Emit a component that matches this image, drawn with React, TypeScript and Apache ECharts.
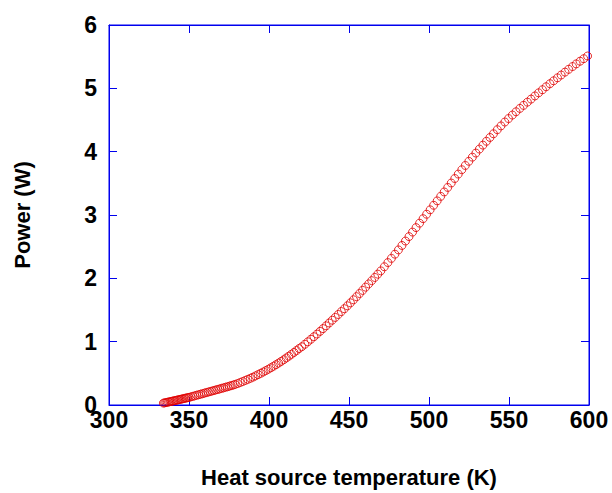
import React, { useEffect, useRef } from "react";
import * as echarts from "echarts";

const temperature: number[] = [
  334.0, 334.8, 335.6, 336.4, 337.2, 338.0, 338.8, 339.6, 340.4, 341.2, 342.0, 342.8, 343.6, 344.4, 345.2, 346.0, 346.8, 347.6, 348.4, 349.2, 350.0,
  351.2, 352.4, 353.6, 354.8, 356.0, 357.2, 358.4, 359.6, 360.8, 362.0, 363.2, 364.4, 365.6, 366.8, 368.0, 369.2, 370.4, 371.6, 372.8, 374.0, 375.2, 376.4, 377.6, 378.8,
  380.4, 382.0, 383.6, 385.2, 386.8, 388.4, 390.0, 391.6, 393.2, 394.8, 396.4, 398.0, 399.6, 401.2, 402.8, 404.4, 406.0, 407.6, 409.2, 410.8, 412.4, 414.0, 415.6, 417.2, 418.8,
  420.5, 422.4, 424.3, 426.2, 428.1, 430.0, 431.9, 433.8, 435.7, 437.6, 439.5, 441.4, 443.3, 445.2, 447.1, 449.0, 450.9, 452.8, 454.7, 456.6, 458.5, 460.4, 462.3, 464.2, 466.1, 468.0, 469.9,
  472.1, 474.3, 476.5, 478.7, 480.9, 483.1, 485.3, 487.5, 489.7, 491.9, 494.1, 496.3, 498.5, 500.7, 502.9, 505.1, 507.3, 509.5, 511.7, 513.9, 516.1, 518.3, 520.5, 522.7, 524.9, 527.1, 529.3, 531.5, 533.7, 535.9, 538.1, 540.3,
  542.7, 545.0, 547.4, 549.7, 552.1, 554.4, 556.8, 559.1, 561.5, 563.8, 566.2, 568.5, 570.9, 573.2, 575.6, 577.9, 580.3, 582.6, 585.0, 587.3, 589.7, 592.0, 594.4, 596.7, 599.1,
];

const power: number[] = [
  0.030, 0.034, 0.038, 0.043, 0.047, 0.052, 0.056, 0.061, 0.065, 0.070, 0.074, 0.079, 0.084, 0.088, 0.093, 0.097, 0.102, 0.107, 0.111, 0.116, 0.120,
  0.128, 0.137, 0.145, 0.154, 0.162, 0.170, 0.179, 0.187, 0.196, 0.204, 0.212, 0.221, 0.229, 0.238, 0.246, 0.254, 0.263, 0.271, 0.280, 0.288, 0.297, 0.306, 0.315, 0.325,
  0.339, 0.355, 0.371, 0.388, 0.405, 0.422, 0.440, 0.460, 0.480, 0.500, 0.521, 0.543, 0.565, 0.588, 0.612, 0.637, 0.662, 0.688, 0.715, 0.743, 0.771, 0.800, 0.830, 0.860, 0.891,
  0.920, 0.959, 0.998, 1.038, 1.078, 1.120, 1.163, 1.206, 1.250, 1.295, 1.339, 1.383, 1.429, 1.475, 1.520, 1.566, 1.613, 1.661, 1.710, 1.760, 1.810, 1.861, 1.912, 1.963, 2.014, 2.066, 2.118,
  2.183, 2.249, 2.315, 2.381, 2.449, 2.519, 2.589, 2.659, 2.730, 2.801, 2.871, 2.942, 3.012, 3.082, 3.153, 3.223, 3.294, 3.364, 3.435, 3.505, 3.576, 3.646, 3.715, 3.782, 3.848, 3.913, 3.978, 4.041, 4.103, 4.164, 4.224, 4.283,
  4.347, 4.407, 4.468, 4.523, 4.578, 4.630, 4.683, 4.731, 4.782, 4.830, 4.880, 4.929, 4.978, 5.025, 5.073, 5.119, 5.166, 5.210, 5.256, 5.300, 5.344, 5.386, 5.428, 5.468, 5.510,
];

const xTitle = "Heat source temperature (K)";
const yTitle = "Power (W)";

const FONT = "'Liberation Sans', Arial, Helvetica, sans-serif";
const BLUE = "#0000ee";

export default function App() {
  const ref = useRef<HTMLDivElement>(null);
  useEffect(() => {
    if (!ref.current) return;
    const chart = echarts.init(ref.current, undefined, { renderer: "svg" });
    const data = temperature.map((t, i) => [t, power[i]]);
    const axisLine = { show: true, onZero: false, lineStyle: { color: BLUE, width: 1 } };
    const axisTick = { show: true, inside: true, length: 8, lineStyle: { color: BLUE, width: 1 } };
    const tickStyle = { color: "#000", fontFamily: FONT, fontWeight: "bold" as const, fontSize: 23 };
    const titleStyle = { color: "#000", fontFamily: FONT, fontWeight: "bold" as const, fontSize: 22 };
    chart.setOption({
      animation: false,
      backgroundColor: "#fff",
      grid: {
        left: 109, right: 23, top: 25, bottom: 83, containLabel: false,
        show: true, borderColor: BLUE, borderWidth: 1, backgroundColor: "transparent",
      },
      xAxis: [
        {
          type: "value", min: 300, max: 600, interval: 50, position: "bottom",
          axisLine, axisTick, splitLine: { show: false },
          axisLabel: { ...tickStyle, lineHeight: 16, margin: 7 },
          name: xTitle, nameLocation: "middle", nameGap: 61,
          nameTextStyle: { ...titleStyle },
        },
        {
          type: "value", min: 300, max: 600, interval: 50, position: "top",
          axisLine, axisTick, splitLine: { show: false }, axisLabel: { show: false },
        },
      ],
      yAxis: [
        {
          type: "value", min: 0, max: 6, interval: 1, position: "left",
          axisLine, axisTick, splitLine: { show: false },
          axisLabel: { ...tickStyle, lineHeight: 12, margin: 12 },
          name: yTitle, nameLocation: "middle", nameGap: 76, nameRotate: 90,
          nameTextStyle: { ...titleStyle },
        },
        {
          type: "value", min: 0, max: 6, interval: 1, position: "right",
          axisLine, axisTick, splitLine: { show: false }, axisLabel: { show: false },
        },
      ],
      series: [
        {
          type: "scatter",
          data,
          symbol: "circle",
          symbolSize: 8,
          itemStyle: { color: "rgba(0,0,0,0)", borderColor: "#e00000", borderWidth: 1 },
          clip: false,
        },
      ],
    });
    return () => chart.dispose();
  }, []);
  return (
    <div
      ref={ref}
      style={{ position: "fixed", left: 0, top: 0, width: 612, height: 493, background: "#fff" }}
    />
  );
}
